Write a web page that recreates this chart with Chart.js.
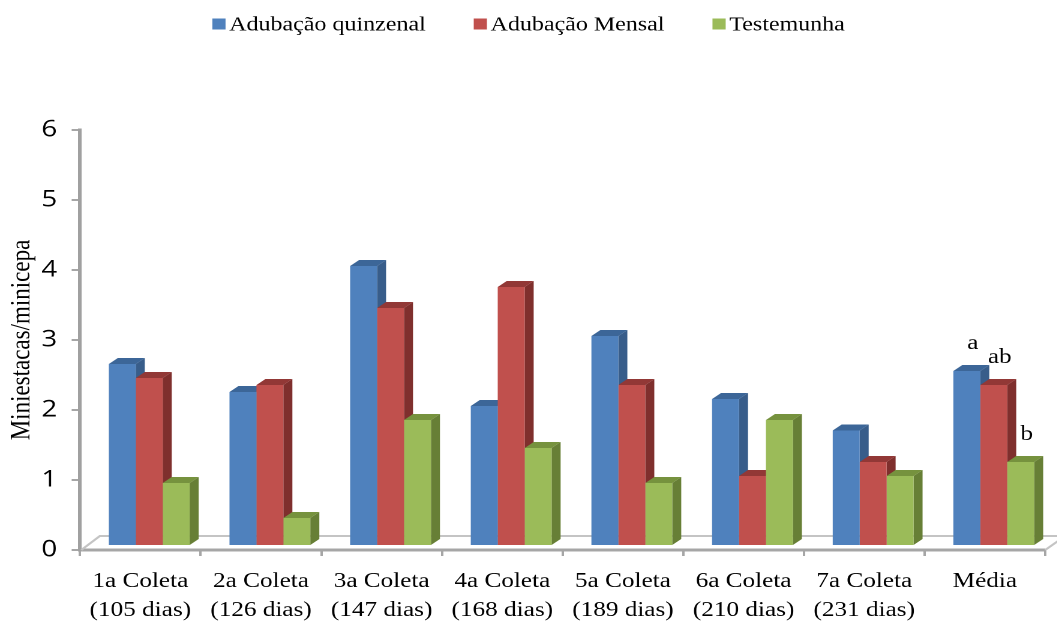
<!DOCTYPE html>
<html>
<head>
<meta charset="utf-8">
<script src="https://cdn.jsdelivr.net/npm/chart.js@4.4.1/dist/chart.umd.min.js"></script>
<style>
  html, body { margin: 0; padding: 0; background: #fff; overflow: hidden; }
  /* the chart is laid out on an 881px canvas and widened 1.2x to fill the page */
  #wrap { width: 881px; height: 622px; transform: scaleX(1.2); transform-origin: 0 0; }
  canvas { display: block; }
</style>
</head>
<body>
<div id="wrap"><canvas id="chart" width="881" height="622"></canvas></div>
<script>
// Categories (collection dates) and series values: miniestacas per minicepa
const categories = [
  ['1a Coleta', '(105 dias)'],
  ['2a Coleta', '(126 dias)'],
  ['3a Coleta', '(147 dias)'],
  ['4a Coleta', '(168 dias)'],
  ['5a Coleta', '(189 dias)'],
  ['6a Coleta', '(210 dias)'],
  ['7a Coleta', '(231 dias)'],
  ['Média']
];
const seriesNames = ['Adubação quinzenal', 'Adubação Mensal', 'Testemunha'];
const quinzenal  = [2.6, 2.2, 4.0, 2.0, 3.0, 2.1, 1.65, 2.5];
const mensal     = [2.4, 2.3, 3.4, 3.7, 2.3, 1.0, 1.2, 2.3];
const testemunha = [0.9, 0.4, 1.8, 1.4, 0.9, 1.8, 1.0, 1.2];
const yTicks = [0, 1, 2, 3, 4, 5, 6];
// significance letters over the "Média" group, one per series
const mediaLetters = ['a', 'ab', 'b'];

// pseudo-3D geometry (canvas px)
const ROW   = { dx: 7.4, dy: -4 };    // bar row sits mid-depth on the floor
const BAR   = { dx: 7.5, dy: -6 };    // depth of each column
const FLOOR = { dx: 16.5, dy: -14 };  // full depth of the floor

const SERIF = "'Liberation Serif', 'Times New Roman', serif";

const depth3d = {
  id: 'depth3d',
  beforeDatasetsDraw(chart) {
    const { ctx, chartArea: a } = chart;
    // floor outline (back edge and left edge)
    ctx.save();
    ctx.strokeStyle = '#c4c4c4';
    ctx.lineWidth = 2;
    ctx.beginPath();
    ctx.moveTo(a.left + 1, a.bottom);
    ctx.lineTo(a.left + FLOOR.dx, a.bottom + FLOOR.dy);
    ctx.lineTo(a.right + FLOOR.dx, a.bottom + FLOOR.dy);
    ctx.stroke();
    ctx.beginPath();
    ctx.moveTo(a.right, a.bottom);
    ctx.lineTo(a.right + FLOOR.dx, a.bottom + FLOOR.dy);
    ctx.stroke();
    ctx.restore();

    ctx.save();
    ctx.translate(ROW.dx, ROW.dy);
    const bars = [];
    chart.data.datasets.forEach((ds, i) => {
      chart.getDatasetMeta(i).data.forEach(el => {
        const p = el.getProps(['x', 'y', 'base', 'width'], true);
        bars.push({ ds, p });
      });
    });
    const quad = (pts, color) => {
      ctx.fillStyle = color;
      ctx.beginPath();
      ctx.moveTo(pts[0][0], pts[0][1]);
      for (let k = 1; k < pts.length; k++) ctx.lineTo(pts[k][0], pts[k][1]);
      ctx.closePath();
      ctx.fill();
    };
    // right-hand side faces first, then tops; front faces are drawn by Chart.js
    bars.forEach(({ ds, p }) => {
      const r = p.x + p.width / 2;
      quad([[r, p.y], [r + BAR.dx, p.y + BAR.dy], [r + BAR.dx, p.base + BAR.dy], [r, p.base]], ds.sideColor);
    });
    bars.forEach(({ ds, p }) => {
      const l = p.x - p.width / 2, r = p.x + p.width / 2;
      quad([[l, p.y], [r, p.y], [r + BAR.dx, p.y + BAR.dy], [l + BAR.dx, p.y + BAR.dy]], ds.topColor);
    });
    ctx.restore();
    // shift the library's own bar fronts onto the same row
    ctx.save();
    ctx.translate(ROW.dx, ROW.dy);
  },
  afterDatasetsDraw(chart) {
    const { ctx } = chart;
    ctx.restore();
    // letters above the mean columns
    const last = categories.length - 1;
    ctx.save();
    ctx.fillStyle = '#000';
    ctx.font = '21px ' + SERIF;
    ctx.textAlign = 'center';
    ctx.textBaseline = 'alphabetic';
    mediaLetters.forEach((t, i) => {
      const el = chart.getDatasetMeta(i).data[last];
      ctx.fillText(t, el.x + ROW.dx + 5, el.y + ROW.dy - 22);
    });
    ctx.restore();
  }
};

const legendRow = {
  id: 'legendRow',
  afterDraw(chart) {
    const { ctx } = chart;
    const box = 11, gapText = 3, gapItem = 40, yMid = 24;
    ctx.save();
    ctx.font = '20px ' + SERIF;
    const items = chart.data.datasets.map(ds => ({ label: ds.label, color: ds.backgroundColor, w: ctx.measureText(ds.label).width }));
    const total = items.reduce((s, it) => s + box + gapText + it.w, 0) + gapItem * (items.length - 1);
    let x = (chart.width - total) / 2;
    ctx.textBaseline = 'middle';
    ctx.textAlign = 'left';
    items.forEach(it => {
      ctx.fillStyle = it.color;
      ctx.fillRect(x, yMid - box / 2, box, box);
      ctx.fillStyle = '#000';
      ctx.fillText(it.label, x + box + gapText, yMid + 1);
      x += box + gapText + it.w + gapItem;
    });
    ctx.restore();
  }
};

new Chart(document.getElementById('chart'), {
  type: 'bar',
  data: {
    labels: categories,
    datasets: [
      { label: seriesNames[0], data: quinzenal,  backgroundColor: '#4F81BD', sideColor: '#385D8A', topColor: '#3C6698' },
      { label: seriesNames[1], data: mensal,     backgroundColor: '#C0504D', sideColor: '#7F2F2D', topColor: '#923836' },
      { label: seriesNames[2], data: testemunha, backgroundColor: '#9BBB59', sideColor: '#677F36', topColor: '#76923E' }
    ]
  },
  options: {
    responsive: false,
    animation: false,
    devicePixelRatio: 2,
    layout: { padding: { top: 130, right: 10, bottom: 0, left: 0 } },
    datasets: { bar: { categoryPercentage: 0.67, barPercentage: 1, borderWidth: 0 } },
    plugins: { legend: { display: false }, tooltip: { enabled: false } },
    scales: {
      x: {
        afterFit: s => { s.height = 72; },
        grid: { display: true, drawOnChartArea: false, drawTicks: true, tickLength: 6, color: '#a6a6a6', lineWidth: 2, offset: true },
        border: { display: true, color: '#a6a6a6', width: 3 },
        ticks: { font: { family: SERIF, size: 21, lineHeight: 1.38 }, color: '#000', padding: 11, maxRotation: 0, autoSkip: false }
      },
      y: {
        min: 0,
        max: 6,
        afterBuildTicks: s => { s.ticks = yTicks.map(v => ({ value: v })); },
        afterFit: s => { s.width = 66.7; },
        grid: { drawOnChartArea: false, drawTicks: true, tickLength: 7, color: '#a6a6a6', lineWidth: 2 },
        border: { display: true, color: '#a0a0a0', width: 3 },
        ticks: { font: { family: "'Open Sans', 'Liberation Sans', sans-serif", size: 23 }, color: '#000', padding: 12 },
        title: { display: true, text: 'Miniestacas/minicepa', font: { family: SERIF, size: 23 }, color: '#000', padding: { top: 4.5, bottom: 0 } }
      }
    }
  },
  plugins: [depth3d, legendRow]
});
</script>
</body>
</html>
